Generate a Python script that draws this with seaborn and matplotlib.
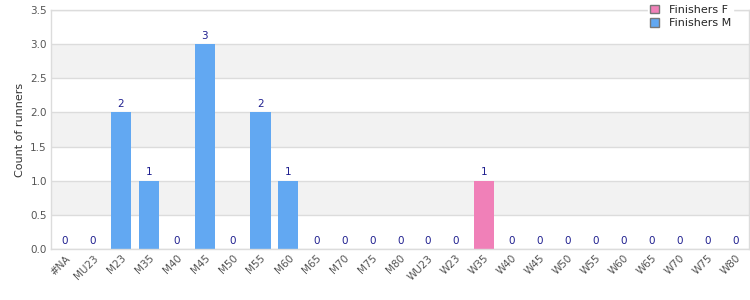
import matplotlib
matplotlib.use("Agg")
import matplotlib.pyplot as plt
import seaborn as sns
import pandas as pd
from matplotlib.patches import Patch

categories = ["#NA", "MU23", "M23", "M35", "M40", "M45", "M50", "M55", "M60", "M65",
              "M70", "M75", "M80", "WU23", "W23", "W35", "W40", "W45", "W50", "W55",
              "W60", "W65", "W70", "W75", "W80"]
finishers_m = [0, 0, 2, 1, 0, 3, 0, 2, 1, 0, 0, 0, 0, 0, 0, 0, 0, 0, 0, 0, 0, 0, 0, 0, 0]
finishers_f = [0, 0, 0, 0, 0, 0, 0, 0, 0, 0, 0, 0, 0, 0, 0, 1, 0, 0, 0, 0, 0, 0, 0, 0, 0]
y_ticks = [0.0, 0.5, 1.0, 1.5, 2.0, 2.5, 3.0, 3.5]

col_m = "#62a8f2"
col_f = "#f080b8"

sns.set_style("white")
plt.rcParams['font.family'] = ['DejaVu Sans']

fig = plt.figure(figsize=(7.5, 3.0), dpi=100)
ax = fig.add_axes([0.068, 0.17, 0.931, 0.797])

df = pd.DataFrame({"cat": categories, "M": finishers_m, "F": finishers_f})

# alternating bands
for i in range(len(y_ticks) - 1):
    if i % 2 == 1:
        ax.axhspan(y_ticks[i], y_ticks[i + 1], color="#f2f2f2", zorder=0, lw=0)
for t in y_ticks:
    ax.axhline(t, color="#dcdcdc", lw=1, zorder=0.5)

sns.barplot(data=df, x="cat", y="M", color=col_m, width=0.72, ax=ax,
            saturation=1, zorder=2, order=categories, linewidth=0, edgecolor="none")
sns.barplot(data=df, x="cat", y="F", color=col_f, width=0.72, ax=ax,
            saturation=1, zorder=2, order=categories, linewidth=0, edgecolor="none")

totals = [m + f for m, f in zip(finishers_m, finishers_f)]
for i, v in enumerate(totals):
    ax.text(i, v + 0.05, f"{v:g}", ha="center", va="bottom", color="#1f1f8f",
            fontsize=7.5, zorder=3)

ax.set_ylim(0, 3.5)
ax.set_xlim(-0.5, len(categories) - 0.5)
ax.set_yticks(y_ticks)
ax.set_yticklabels([f"{t:.1f}" for t in y_ticks], fontsize=7.5, color="#555555")
ax.set_xticks(range(len(categories)))
ax.set_xticklabels(categories, rotation=45, ha="right", rotation_mode="anchor",
                   fontsize=7.5, color="#555555")
ax.tick_params(axis="both", length=0, pad=3)
ax.set_xlabel("")
ax.set_ylabel("Count of runners", fontsize=8, color="#333333")
for s in ax.spines.values():
    s.set_color("#dcdcdc")
    s.set_linewidth(1)

handles = [Patch(facecolor=col_f, edgecolor="#777777", label="Finishers F"),
           Patch(facecolor=col_m, edgecolor="#777777", label="Finishers M")]
leg = fig.legend(handles=handles, loc="upper left", bbox_to_anchor=(0.856, 1.01),
                 frameon=True, fontsize=8, handlelength=0.8, handleheight=0.8,
                 handletextpad=0.9, labelspacing=0.3, borderpad=0.2)
leg.get_frame().set_edgecolor("white")
leg.get_frame().set_facecolor("white")
leg.get_frame().set_alpha(1)
leg.set_zorder(10)

fig.savefig("out.png", dpi=100)
